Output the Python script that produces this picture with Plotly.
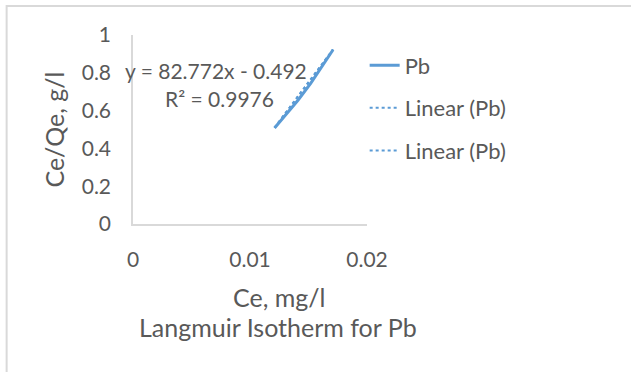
import plotly.graph_objects as go

# Data
ce = [0.0121, 0.0133, 0.0141, 0.0152, 0.0171]
ce_qe = [0.508, 0.595, 0.655, 0.745, 0.922]
slope = 82.772
intercept = -0.492
r2 = 0.9976
x_ticks = [0, 0.01, 0.02]
x_tick_labels = ["0", "0.01", "0.02"]
y_ticks = [0, 0.2, 0.4, 0.6, 0.8, 1]
y_tick_labels = ["0", "0.2", "0.4", "0.6", "0.8", "1"]

FONT = "Lato, sans-serif"
GREY = "#595959"
BLUE = "#5b9bd5"

trend_x = [min(ce), max(ce)]
trend_y = [slope * v + intercept for v in trend_x]

fig = go.Figure()
fig.add_trace(go.Scatter(x=ce, y=ce_qe, mode="lines", name="Pb",
                         line=dict(color=BLUE, width=3), legendgroup="a"))
fig.add_trace(go.Scatter(x=trend_x, y=trend_y, mode="lines", name="Linear (Pb)",
                         line=dict(color=BLUE, width=2, dash="dot"), legendgroup="b"))
fig.add_trace(go.Scatter(x=trend_x, y=trend_y, mode="lines", name="Linear (Pb)",
                         line=dict(color=BLUE, width=2, dash="dot"), legendgroup="c"))

fig.add_annotation(x=0.0071, y=0.81, xref="x", yref="y",
                   text=f"y = {slope}x - {abs(intercept)}", showarrow=False,
                   font=dict(family=FONT, size=21, color=GREY))
fig.add_annotation(x=0.0074, y=0.665, xref="x", yref="y",
                   text=f"R² = {r2}", showarrow=False,
                   font=dict(family=FONT, size=21, color=GREY))

# x-axis title (offset to the right as in the reference)
fig.add_annotation(x=0.628, y=-0.386, xref="paper", yref="paper",
                   xanchor="center", yanchor="middle",
                   text="Ce, mg/l", showarrow=False,
                   font=dict(family=FONT, size=25, color=GREY))
# chart title at the bottom
fig.add_annotation(x=0.62, y=-0.545, xref="paper", yref="paper",
                   xanchor="center", yanchor="middle",
                   text="Langmuir Isotherm for Pb", showarrow=False,
                   font=dict(family=FONT, size=25, color=GREY))

# chart border (top and left visible)
fig.add_shape(type="rect", xref="paper", yref="paper",
              x0=-0.54, x1=2.5, y0=-2.0, y1=1.153,
              line=dict(color="#d9d9d9", width=2))

fig.update_layout(
    width=631, height=372,
    margin=dict(l=133, r=264, t=35, b=148),
    paper_bgcolor="white", plot_bgcolor="white",
    font=dict(family=FONT, size=21, color=GREY),
    showlegend=True,
    legend=dict(x=0.99, y=0.95, xanchor="left", yanchor="top",
                font=dict(family=FONT, size=22, color=GREY),
                tracegroupgap=11, bgcolor="rgba(0,0,0,0)"),
    xaxis=dict(range=[0, 0.02], tickvals=x_ticks, ticktext=x_tick_labels,
               showgrid=False, zeroline=False, showline=True, linecolor="#d9d9d9",
               linewidth=1.5, ticks="", ticklabelstandoff=16,
               tickfont=dict(family=FONT, size=21, color=GREY)),
    yaxis=dict(range=[0, 1], tickvals=y_ticks, ticktext=y_tick_labels,
               showgrid=False, zeroline=False, showline=True, linecolor="#d9d9d9",
               linewidth=1.5, ticks="", ticklabelstandoff=16,
               tickfont=dict(family=FONT, size=21, color=GREY),
               title=dict(text="Ce/Qe, g/l", font=dict(family=FONT, size=25, color=GREY), standoff=10)),
)
fig.write_html("out.html")
